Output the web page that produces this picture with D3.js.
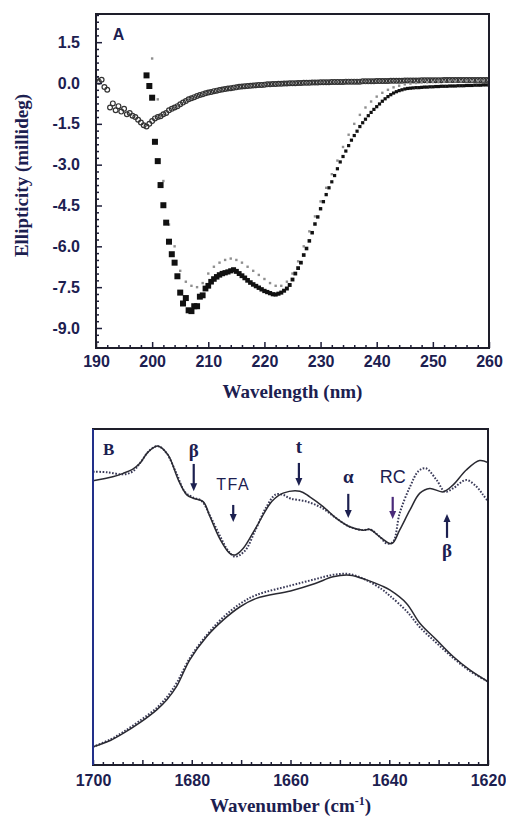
<!DOCTYPE html>
<html><head><meta charset="utf-8">
<script src="https://cdn.jsdelivr.net/npm/d3@7"></script>
<style>body{margin:0;background:#fff}svg{display:block}</style>
</head><body>
<svg id="c" width="506" height="817"></svg>
<script>
// ---------------- Panel A data (CD spectra) ----------------
const sqStart = 199, sqStep = 0.5;   // filled squares
const sqValues = [
 0.28,-0.11,-0.54,-2.16,-2.87,-3.75,-4.49,-5.13,-5.83,-6.29,
 -6.60,-7.10,-7.70,-8.10,-7.90,-8.35,-8.38,-8.20,-8.20,-7.85,
 -7.80,-7.55,-7.45,-7.30,-7.20,-7.12,-7.05,-7.00,-6.97,-6.94,
 -6.90,-6.86,-6.92,-7.00,-7.08,-7.16,-7.25,-7.33,-7.40,-7.46,
 -7.52,-7.58,-7.64,-7.68,-7.72,-7.76,-7.77,-7.74,-7.70,-7.63,
 -7.55,-7.42,-7.22,-7.00,-6.80,-6.60,-6.32,-6.08,-5.80,-5.50,
 -5.18,-4.92,-4.62,-4.36,-4.10,-3.85,-3.63,-3.40,-3.15,-2.90,
 -2.70,-2.50,-2.30,-2.10,-1.93,-1.77,-1.60,-1.46,-1.33,-1.20,
 -1.08,-0.97,-0.87,-0.77,-0.67,-0.58,-0.50,-0.43,-0.37,-0.32,
 -0.28,-0.25,-0.22,-0.20,-0.19,-0.18,-0.17,-0.17,-0.16,-0.15,
 -0.15,-0.14,-0.14,-0.13,-0.13,-0.12,-0.12,-0.12,-0.11,-0.11,
 -0.11,-0.10,-0.10,-0.10,-0.09,-0.09,-0.09,-0.08,-0.08,-0.08,
 -0.07,-0.07,-0.07];
const grStart = 200, grStep = 1;     // grey dots
const grValues = [
 0.90,-0.60,-3.60,-5.20,-6.00,-6.90,-7.30,-7.45,-7.50,-7.35,
 -7.00,-6.75,-6.60,-6.50,-6.45,-6.50,-6.60,-6.75,-6.90,-7.05,
 -7.20,-7.35,-7.45,-7.45,-7.30,-7.00,-6.55,-6.00,-5.45,-4.90,
 -4.35,-3.85,-3.35,-2.85,-2.35,-1.90,-1.50,-1.17,-0.90,-0.68,
 -0.50,-0.36,-0.25,-0.16,-0.10,-0.05,-0.02,0.00,0.02,0.03,
 0.04,0.05,0.05,0.06,0.06,0.06,0.07,0.07,0.07,0.07,
 0.07];
const ciStart = 190, ciStep = 0.5;   // open circles
const ciValues = [
 0.15,0.05,0.12,-0.15,-0.25,-0.90,-0.75,-1.00,-0.85,-1.05,
 -0.95,-1.15,-1.10,-1.20,-1.25,-1.35,-1.45,-1.55,-1.60,-1.50,
 -1.40,-1.30,-1.25,-1.22,-1.15,-1.10,-1.00,-0.95,-0.90,-0.85,
 -0.78,-0.72,-0.66,-0.60,-0.56,-0.52,-0.48,-0.44,-0.41,-0.38,
 -0.35,-0.33,-0.30,-0.28,-0.26,-0.24,-0.22,-0.20,-0.19,-0.17,
 -0.16,-0.14,-0.13,-0.12,-0.11,-0.10,-0.09,-0.08,-0.07,-0.07,
 -0.06,-0.05,-0.05,-0.04,-0.04,-0.03,-0.03,-0.02,-0.02,-0.01,
 -0.01,-0.01,0.00,0.00,0.01,0.01,0.01,0.02,0.02,0.02,
 0.03,0.03,0.03,0.03,0.04,0.04,0.04,0.04,0.04,0.05,
 0.05,0.05,0.05,0.05,0.05,0.06,0.06,0.06,0.06,0.06,
 0.07,0.07,0.07,0.07,0.07,0.08,0.08,0.08,0.08,0.08,
 0.09,0.09,0.09,0.09,0.09,0.09,0.10,0.10,0.10,0.10,
 0.10,0.10,0.10,0.10,0.11,0.11,0.11,0.11,0.11,0.11,
 0.11,0.11,0.11,0.11,0.11,0.11,0.11,0.11,0.11,0.11,
 0.11];
const aXTicks = [190,200,210,220,230,240,250,260];
const aYTicks = [1.5,0.0,-1.5,-3.0,-4.5,-6.0,-7.5,-9.0];

// ---------------- Panel B data (FTIR) ----------------
const upSolidX = [1700,1696,1693.9,1692,1690.5,1688.8,1686.8,1684.8,1682.7,1681,1679.7,1677.7,1676.3,1674.3,1672.3,1671.2,1669.6,1666.9,1663.8,1661.5,1658.1,1656.1,1653.4,1650.7,1648,1645.3,1643.9,1641.9,1639.5,1637.9,1635.8,1633.8,1631.8,1629.1,1627.1,1624.4,1621.7,1620];
const upSolidY = [84.6,85.8,86.8,88.0,89.8,93.2,94.9,92.3,84.8,80.4,79.4,78.4,73.9,67.3,63.0,62.5,64.4,70.9,78.4,80.9,81.5,79.8,76.9,73.4,70.9,69.9,70.1,67.9,65.9,69.9,75.9,80.9,82.3,81.3,83.3,87.8,90.6,90.0];
const upDotX = [1700,1697,1694,1692,1690.5,1688.5,1686.8,1685.1,1683.1,1681.4,1679.7,1678,1676.3,1674.3,1672.5,1671.2,1669.2,1667.2,1665,1663,1661.5,1660,1656.7,1653.4,1650.7,1648,1645.3,1643.9,1641.9,1640.5,1639.2,1637.9,1635.8,1634,1632.6,1630.4,1628.7,1627.1,1624.4,1622.3,1621,1620];
const upDotY = [87.3,87.1,86.5,87.3,89.8,93.7,94.9,92.8,86.8,81.3,79.6,78.6,74.2,68.2,63.5,62.0,63.8,69.6,76.5,80.5,80.4,79.3,78.4,76.3,73.4,70.9,69.9,70.1,67.9,65.9,66.5,74.9,82.8,87.6,88.3,84.8,81.3,82.3,84.8,82.8,80.4,78.5];
const loSolidX = [1700,1696.5,1693.9,1690.5,1687.1,1685,1683.1,1680.4,1677,1673.6,1670.2,1666.9,1660,1655,1651.4,1648,1644.6,1641.5,1639.9,1636.5,1633.8,1630.4,1627,1623.7,1620];
const loSolidY = [5.4,7.3,9.4,12.6,16.4,19.5,23.3,31.3,38.2,43.2,47.1,49.6,51.8,54.0,56.0,56.5,55.1,53.3,52.1,48.1,42.2,37.2,32.2,28.3,24.8];
const loDotX = [1700,1696.5,1693.9,1690.5,1687.1,1685,1683.1,1680.4,1677,1673.6,1670.2,1666.9,1660,1655,1651.4,1648,1644.6,1641.5,1639.9,1636.5,1633.8,1630.4,1627,1623.7,1620];
const loDotY = [5.4,7.6,9.8,13.2,17.0,20.3,24.3,31.8,38.6,44.0,48.0,50.6,53.4,55.3,56.6,56.8,55.0,52.3,50.4,45.8,41.0,36.3,31.8,28.0,24.8];
const bXTicks = [1700,1680,1660,1640,1620];
// annotations: label, wavenumber, text baseline, arrow tail, arrow tip (data units)
const annLabels = ['β','TFA','t','α','RC','β'];
const annWn     = [1679.6,1671.6,1658.3,1648.3,1639.3,1628.3];
const annText   = [91.7,81.8,92.9,83.9,83.9,61.9];
const annTail   = [89.6,77.4,89.9,80.7,79.8,67.6];
const annTip    = [81.5,72.3,83.0,73.5,73.2,74.7];

// ---------------- drawing ----------------
const svg = d3.select('#c');
const TXT = '#1c2050';
const SERIF = '"Liberation Serif","Times New Roman",serif';
const SANS = '"Liberation Sans",Arial,sans-serif';
const defs = svg.append('defs');

// ===== Panel A =====
const xA = d3.scaleLinear([190,260],[96,489]);
const yA = d3.scaleLinear([-9.735,2.535],[348,14]);
defs.append('clipPath').attr('id','clipA').append('rect')
  .attr('x',96).attr('y',14).attr('width',393).attr('height',334);

const gA = svg.append('g');
const plotA = gA.append('g').attr('clip-path','url(#clipA)');

const circ = ciValues.map((v,i)=>({x:ciStart+i*ciStep,y:v}));
const grey = grValues.map((v,i)=>({x:grStart+i*grStep,y:v}));
const sq = sqValues.map((v,i)=>({x:sqStart+i*sqStep,y:v}));

plotA.selectAll('circle.o').data(circ).join('circle').attr('class','o')
  .attr('cx',d=>xA(d.x)).attr('cy',d=>yA(d.y)).attr('r',2.4)
  .attr('fill','none').attr('stroke','#333').attr('stroke-width',1.2);
plotA.selectAll('rect.g').data(grey).join('rect').attr('class','g')
  .attr('x',d=>xA(d.x)-1.2).attr('y',d=>yA(d.y)-1.2).attr('width',2.4).attr('height',2.4)
  .attr('fill','#8f8f8f');
const sqSize = d3.scaleLinear().domain([208,218,232]).range([6,4.5,3.2]).clamp(true);
plotA.selectAll('rect.s').data(sq).join('rect').attr('class','s')
  .attr('x',d=>xA(d.x)-sqSize(d.x)/2).attr('y',d=>yA(d.y)-sqSize(d.x)/2)
  .attr('width',d=>sqSize(d.x)).attr('height',d=>sqSize(d.x))
  .attr('fill','#111');

// axes A
function styleAxis(g, fs){
  g.select('.domain').remove();
  g.selectAll('line').attr('stroke','#1e1e3a').attr('stroke-width',1.5);
  g.selectAll('text').attr('fill',TXT).style('font-family',SANS)
   .style('font-weight','bold').style('font-size',fs+'px');
}
gA.append('g').attr('transform','translate(0,348)')
  .call(d3.axisBottom(xA).tickValues(d3.range(192,260,2).filter(v=>v%10)).tickSize(-3).tickFormat(''))
  .call(g=>styleAxis(g,16));
gA.append('g').attr('transform','translate(0,348)')
  .call(d3.axisBottom(xA).tickValues(aXTicks).tickSize(-6).tickPadding(8).tickFormat(d3.format('d')))
  .call(g=>styleAxis(g,16));
gA.append('g').attr('transform','translate(96,0)')
  .call(d3.axisLeft(yA).tickValues(d3.range(-9.5,2.6,0.25).filter(v=>Math.abs(v/1.5-Math.round(v/1.5))>1e-6)).tickSize(-3).tickFormat(''))
  .call(g=>styleAxis(g,16));
gA.append('g').attr('transform','translate(96,0)')
  .call(d3.axisLeft(yA).tickValues(aYTicks).tickSize(-6).tickPadding(16).tickFormat(d=>d.toFixed(1)))
  .call(g=>styleAxis(g,16));
gA.append('rect').attr('x',96).attr('y',14).attr('width',393).attr('height',334)
  .attr('fill','none').attr('stroke','#1e1e2a').attr('stroke-width',2);
gA.append('text').attr('x',xA(193)).attr('y',yA(1.58)).text('A')
  .attr('fill',TXT).style('font-family',SANS).style('font-weight','bold').style('font-size','16px');
gA.append('text').attr('transform','translate(28,'+yA(-3.4)+') rotate(-90)')
  .attr('text-anchor','middle').text('Ellipticity (millideg)')
  .attr('fill',TXT).style('font-family',SERIF).style('font-weight','bold').style('font-size','19px');
gA.append('text').attr('x',xA(225)).attr('y',398).attr('text-anchor','middle')
  .text('Wavelength (nm)')
  .attr('fill',TXT).style('font-family',SERIF).style('font-weight','bold').style('font-size','19px');

// ===== Panel B =====
const xB = d3.scaleLinear([1700,1620],[93,488]);
const yB = d3.scaleLinear([0,100],[765,429]);
defs.append('clipPath').attr('id','clipB').append('rect')
  .attr('x',93).attr('y',429).attr('width',395).attr('height',336);
const gB = svg.append('g');
const plotB = gB.append('g').attr('clip-path','url(#clipB)');
const line = d3.line().x(d=>xB(d[0])).y(d=>yB(d[1])).curve(d3.curveCatmullRom.alpha(0.5));
const zip = (a,b)=>a.map((v,i)=>[v,b[i]]);
[[upDotX,upDotY],[loDotX,loDotY]].forEach(([a,b])=>{
  plotB.append('path').attr('d',line(zip(a,b))).attr('fill','none')
    .attr('stroke','#3a3a58').attr('stroke-width',2).attr('stroke-dasharray','1.6,1.6');
});
[[upSolidX,upSolidY],[loSolidX,loSolidY]].forEach(([a,b])=>{
  plotB.append('path').attr('d',line(zip(a,b))).attr('fill','none')
    .attr('stroke','#2a2a32').attr('stroke-width',1.5);
});
gB.append('g').attr('transform','translate(0,765)')
  .call(d3.axisBottom(xB).tickValues(d3.range(1698,1620,-2).filter(v=>v%10)).tickSize(-3).tickFormat(''))
  .call(g=>styleAxis(g,15));
gB.append('g').attr('transform','translate(0,765)')
  .call(d3.axisBottom(xB).tickValues([1690,1670,1650,1630]).tickSize(-5).tickFormat(''))
  .call(g=>styleAxis(g,15));
gB.append('g').attr('transform','translate(0,765)')
  .call(d3.axisBottom(xB).tickValues(bXTicks).tickSize(-5).tickPadding(10).tickFormat(d3.format('d')))
  .call(g=>styleAxis(g,16));
gB.append('rect').attr('x',93).attr('y',429).attr('width',395).attr('height',336)
  .attr('fill','none').attr('stroke','#1e1e2a').attr('stroke-width',2);
gB.append('line').attr('x1',93).attr('x2',93).attr('y1',429).attr('y2',765)
  .attr('stroke','#22308a').attr('stroke-width',2);
gB.append('text').attr('x',xB(1698)).attr('y',yB(92.3)).text('B')
  .attr('fill',TXT).style('font-family',SERIF).style('font-weight','bold').style('font-size','17px');

// annotations
annLabels.forEach((lab,i)=>{
  const sans = (lab==='TFA'||lab==='RC');
  const col = lab==='RC' ? '#4a2a7a' : TXT;
  const t = gB.append('text').attr('x',xB(annWn[i])).attr('y',yB(annText[i]))
    .attr('text-anchor','middle').text(lab).attr('fill',TXT)
    .style('font-family',sans?SANS:SERIF).style('font-weight',sans?'normal':'bold')
    .style('font-size',(lab==='TFA'?16:(lab==='RC'?18:19))+'px');
  if(lab==='TFA') t.style('letter-spacing','1.5px');
  const x = xB(annWn[i]), y0 = yB(annTail[i]), y1 = yB(annTip[i]);
  const dir = y1>y0 ? 1 : -1;
  gB.append('line').attr('x1',x).attr('x2',x).attr('y1',y0).attr('y2',y1-dir*6)
    .attr('stroke',col).attr('stroke-width',2.2);
  gB.append('path').attr('d',`M${x-3.5},${y1-dir*8}L${x+3.5},${y1-dir*8}L${x},${y1}Z`).attr('fill',col);
});
gB.append('text').attr('x',xB(1660)).attr('y',812).attr('text-anchor','middle')
  .attr('fill',TXT).style('font-family',SERIF).style('font-weight','bold').style('font-size','19px')
  .call(t=>{
    t.append('tspan').text('Wavenumber (cm');
    t.append('tspan').text('-1').attr('dy',-7).style('font-size','12px');
    t.append('tspan').text(')').attr('dy',7);
  });
</script></body></html>
